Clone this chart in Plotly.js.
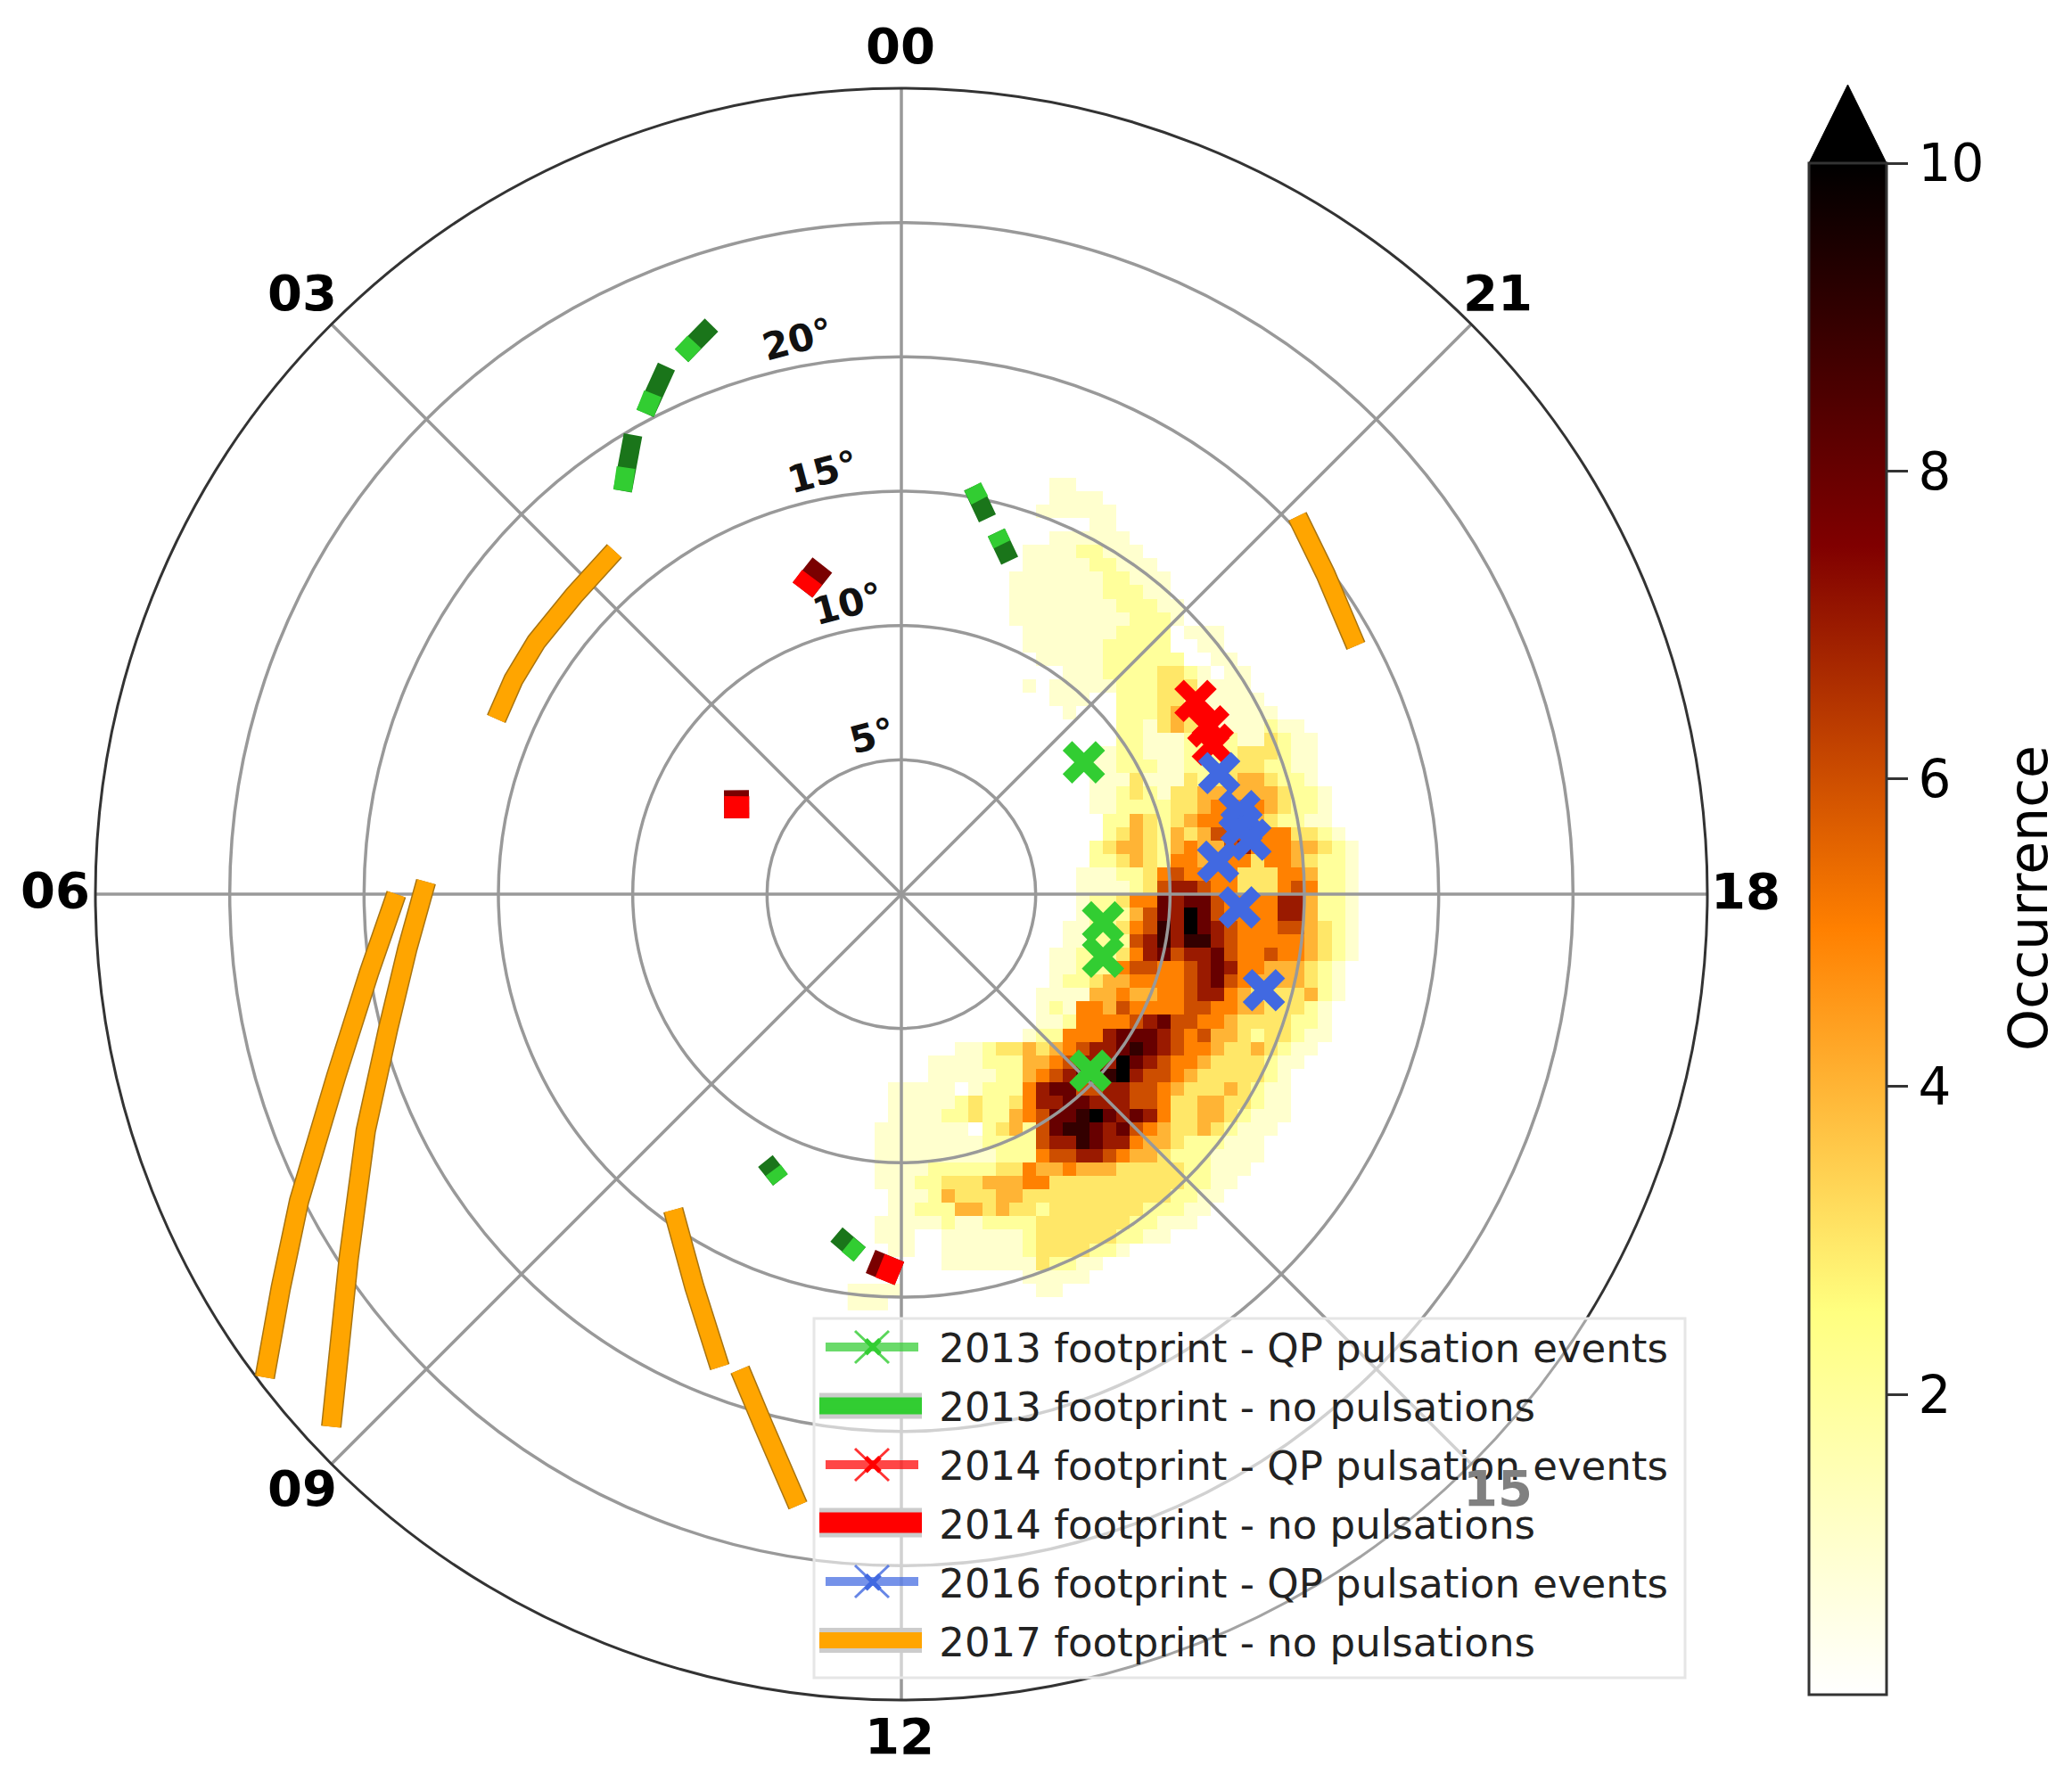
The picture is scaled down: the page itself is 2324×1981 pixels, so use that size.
<!DOCTYPE html>
<html>
<head>
<meta charset="utf-8">
<script src="https://cdn.plot.ly/plotly-3.0.1.min.js"></script>
<style>html,body{margin:0;padding:0;background:#fff}</style>
</head>
<body>
<div id="chart"></div>
<script>
// ---- occurrence map: rows from +16 deg downward, 0.5 deg cells, "startColumn:levels" (a = 10)
var heatRows = [
"", "15:11", "15:1111", "14:111111", "18:11", "15:111111",
"13:111122111", "13:1111122111", "12:111111122111", "12:111111122211",
"12:1111111122211", "12:1111111112221", "13:111111122220111", "13:111111222220011",
"14:11111222222 0011", "16:11122223321011", "13:10111112223331111",
"15:1110022233211111", "16:1000222343211111",
"20:22134321111211", "20:22111222211 3211",
"18:11221112222333211", "18:1122211222333 2211",
"18:1113111323344 3221", "18:112321334444443221",
"18:11222233455554 3221", "19:224323455554 32211",
"19:234324346665553321", "18:23443245446755544321", "18:22343255455535543221",
"17:111223565555333554221", "17:111123677655333565221", "17:122355878865555774221",
"17:12224687a865555774221", "16:112235697a876555664321", "16:1122267979976555554321",
"15:11222357867786556554321", "15:1122256655678755444321", "15:1223445555678654444321",
"14:11114454455677543333421", "14:1215546555566554433321", "14:1125555678665543333221",
"13:12255578887656443233211", "8:112334345677898765543343211", "6:11112224456777a8765543333211",
"6:11111224567889a766543333321", "3:111110122257886677665433343211", "3:111112322357788777665334433211",
"3:111122322456889a87875334432111", "2:111111102342689987865433432111", "2:11111111222267798775443222111",
"2:11111111122256677654432221111", "2:1111222223354454443333322111", "2:111223334445533333333332211",
"3:1112433344333333333332211", "3:112224434332333333322211", "2:111112112222333333322111",
"2:1110011111123333332211", "3:110011111123333221", "7:111111132211",
"13:11111", "0:1111000000000011", "0:111"
];
var colCount = 38;
var occurrenceTicks = [2, 4, 6, 8, 10];

// ---- footprints: magnetic local time (h) and colatitude (deg)
var lt2013Events = [20.39, 17.47, 16.85, 15.13];
var co2013Events = [8.38, 7.58, 7.86, 9.63];
var lt2014Events = [20.22, 19.91, 19.71];
var co2014Events = [13.1, 13.02, 12.86];
var lt2016Events = [19.39, 18.92, 18.75, 18.59, 18.39, 17.85, 17.01];
var co2016Events = [12.66, 12.96, 12.91, 13.15, 11.85, 12.6, 13.96];

var lt2013Body = [1.48,1.23,null,1.87,1.60,null,2.31,2.02,null,23.34,23.14,null,23.02,22.8,null,10.2,10.47,null,11.28,11.56];
var co2013Body = [21.65,22.33,null,20.28,21.5,null,18.25,19.8,null,15.4,14.35,null,13.92,13.05,null,11.15,11.55,null,12.9,13.5];
var lt2013Tip = [1.48,1.37,null,1.87,1.76,null,2.31,2.19,null,23.34,23.25,null,23.02,22.93,null,10.34,10.47,null,11.42,11.56];
var co2013Tip = [21.65,21.95,null,20.28,20.8,null,18.25,18.9,null,15.4,14.95,null,13.92,13.55,null,11.33,11.55,null,13.2,13.5];

var lt2014Body = [0.9,1.2,null,3.85,4.35,null,11.68,11.98];
var co2014Body = [12.6,11.9,null,7.26,6.75,null,13.72,14.12];
var lt2014Tip = [1.05,1.2,null,3.95,4.35,null,11.78,11.98];
var co2014Tip = [12.25,11.9,null,7.13,6.75,null,13.85,14.12];

var lt2017 = [20.91,20.47,19.91,null,2.66,3.17,3.69,4.07,4.44,null,6.0,6.56,7.19,7.8,8.16,8.48,null,5.9,6.42,6.98,7.59,8.23,8.87,null,9.61,10.15,10.6,null,10.75,11.03,11.36];
var co2017 = [20.37,19.78,19.28,null,16.65,16.5,16.52,16.5,16.43,null,18.8,20.03,22.1,25.16,27.36,29.75,null,17.7,18.5,19.75,21.8,24.66,29.04,null,14.5,16.54,18.86,null,18.69,20.44,23.08];

var angleTickVals = [0,45,90,135,180,225,270,315];
var angleTickText = ["00","03","06","09","12","15","18","21"];
var ringVals = [5,10,15,20,25,30];
var ringLabelVals = [5,10,15,20];

var legendNames = [
 "2013 footprint - QP pulsation events",
 "2013 footprint - no pulsations",
 "2014 footprint - QP pulsation events",
 "2014 footprint - no pulsations",
 "2016 footprint - QP pulsation events",
 "2017 footprint - no pulsations"
];

// ---- geometry
var W = 2324, H = 1981, CX = 1011, CY = 1003, R = 904;
var px = function(x){ return x / W; };
var py = function(y){ return 1 - y / H; };
var FONT = '"DejaVu Sans", sans-serif';
var GREEN = '#32CD32', RED = '#FF0000', BLUE = '#4169E1', ORANGE = '#FFA500';
var toTheta = function(a){ return a.map(function(v){ return v === null ? null : v * 15; }); };

// ---- heat grid
var z = heatRows.map(function(row){
  var out = new Array(colCount).fill(null);
  if (!row) return out;
  var parts = row.replace(/ /g,'').split(':'), start = +parts[0];
  parts[1].split('').forEach(function(ch, i){
    var v = ch === 'a' ? 10 : +ch;
    if (v > 0 && start + i < colCount) out[start + i] = v;
  });
  return out;
});
var afmhotR = [[0,'#ffffff'],[0.25,'#ffff80'],[0.5,'#ff8000'],[0.75,'#800000'],[1,'#000000']];

function lineTrace(lt, co, color, width, name, group){
  return {type:'scatterpolar', mode:'lines', r:co, theta:toTheta(lt), subplot:'polar',
    line:{color:color, width:width}, name:name ? '\u00a0' + name : '', showlegend:!!name,
    legendgroup:group, hoverinfo:'skip', connectgaps:false, cliponaxis:false};
}
function eventTrace(lt, co, color, name, group){
  return {type:'scatterpolar', mode:'markers', r:co, theta:toTheta(lt), subplot:'polar',
    marker:{symbol:'x-thin', size:37, color:color, line:{color:color, width:15}},
    name:'\u00a0' + name, legendgroup:group, hoverinfo:'skip', cliponaxis:false};
}

var traces = [
  {type:'heatmap', z:z, x0:-1.75, dx:0.5, y0:15.75, dy:-0.5, xaxis:'x', yaxis:'y',
   zmin:0.05, zmax:10, colorscale:afmhotR, hoverinfo:'skip', xgap:0, ygap:0,
   showlegend:false,
   colorbar:{x:px(2029), xanchor:'left', y:py(1901), yanchor:'bottom', len:(1901-183)/H, lenmode:'fraction',
     thickness:87, thicknessmode:'pixels', xpad:0, ypad:0, outlinecolor:'#333333', outlinewidth:3,
     tickmode:'array', tickvals:occurrenceTicks, ticktext:occurrenceTicks.map(String),
     ticks:'outside', ticklen:23, tickwidth:3, tickcolor:'#333333',
     tickfont:{family:FONT, size:58, color:'#000'}}},
  lineTrace(lt2013Body, co2013Body, '#1a751a', 21),
  lineTrace(lt2014Body, co2014Body, '#7a0000', 28),
  lineTrace(lt2017, co2017, '#a87410', 23),
  eventTrace(lt2013Events, co2013Events, GREEN, legendNames[0], 'a'),
  lineTrace(lt2013Tip, co2013Tip, GREEN, 21, legendNames[1], 'b'),
  eventTrace(lt2014Events, co2014Events, RED, legendNames[2], 'c'),
  lineTrace(lt2014Tip, co2014Tip, RED, 28, legendNames[3], 'd'),
  eventTrace(lt2016Events, co2016Events, BLUE, legendNames[4], 'e'),
  lineTrace(lt2017, co2017, ORANGE, 20, legendNames[5], 'f')
];

// ---- legend handles and box sit under the library's legend
var shapes = [
  {type:'path', xref:'paper', yref:'paper', layer:'above',
   path:'M'+px(2029)+','+py(183)+' L'+px(2072.5)+','+py(95)+' L'+px(2116)+','+py(183)+' Z',
   fillcolor:'#000', line:{color:'#000', width:1}},
  {type:'rect', xref:'paper', yref:'paper', layer:'above', x0:px(913), x1:px(1890), y0:py(1479), y1:py(1882),
   fillcolor:'rgba(255,255,255,0.55)', line:{color:'#e6e6e6', width:3}}
];
function bar(y, h, x1, color){
  shapes.push({type:'rect', xref:'paper', yref:'paper', layer:'above', x0:px(919), x1:px(x1), y0:py(y-h/2-5), y1:py(y+h/2+5), fillcolor:'#cccccc', line:{width:0}});
  shapes.push({type:'rect', xref:'paper', yref:'paper', layer:'above', x0:px(919), x1:px(x1), y0:py(y-h/2), y1:py(y+h/2), fillcolor:color, line:{width:0}});
}
function crossHandle(y, color){
  var cx = 978;
  shapes.push({type:'line', xref:'paper', yref:'paper', layer:'above', x0:px(926), x1:px(1030), y0:py(y), y1:py(y), opacity:0.72, line:{color:color, width:10}});
  shapes.push({type:'line', xref:'paper', yref:'paper', layer:'above', x0:px(cx-19), x1:px(cx+19), y0:py(y-18), y1:py(y+18), opacity:0.8, line:{color:color, width:3}});
  shapes.push({type:'line', xref:'paper', yref:'paper', layer:'above', x0:px(cx-19), x1:px(cx+19), y0:py(y+18), y1:py(y-18), opacity:0.8, line:{color:color, width:3}});
}
crossHandle(1511, GREEN); bar(1577, 19, 1034, GREEN);
crossHandle(1643, RED);   bar(1708, 23, 1034, RED);
crossHandle(1774, BLUE);  bar(1840, 18, 1034, ORANGE);

// ---- ring labels are rotated and hour labels are centred on a circle: annotations placed from the values
var annotations = ringLabelVals.map(function(v){
  var rr = (v + 1) * R / 30, a = 10.6 * Math.PI / 180;
  return {xref:'paper', yref:'paper', x:px(CX - rr*Math.sin(a)), y:py(CY - rr*Math.cos(a)),
    xanchor:'center', yanchor:'middle', text:v + '°', showarrow:false, textangle:-15,
    font:{family:FONT, size:42, color:'#111', weight:700}};
});
angleTickVals.forEach(function(t, i){
  var a = t * Math.PI / 180, rr = 948, lcx = 1009.5, lcy = 999;
  annotations.push({xref:'paper', yref:'paper', x:px(lcx - rr*Math.sin(a)), y:py(lcy - rr*Math.cos(a)),
    xanchor:'center', yanchor:'middle', text:angleTickText[i], showarrow:false,
    font:{family:FONT, size:56, color:angleTickText[i] === '15' ? '#808080' : '#000', weight:700}});
});
annotations.push({xref:'paper', yref:'paper', x:px(2275), y:py(1008), xanchor:'center', yanchor:'middle',
  text:'Occurrence', showarrow:false, textangle:-90, font:{family:FONT, size:60, color:'#000'}});

var dom = {x:[(CX-R)/W, (CX+R)/W], y:[1-(CY+R)/H, 1-(CY-R)/H]};

var layout = {
  width:W, height:H, margin:{l:0,r:0,t:0,b:0,pad:0},
  paper_bgcolor:'#fff', plot_bgcolor:'rgba(0,0,0,0)',
  font:{family:FONT},
  xaxis:{domain:dom.x, range:[-30,30], visible:false, fixedrange:true},
  yaxis:{domain:dom.y, range:[-30,30], visible:false, fixedrange:true},
  polar:{
    domain:dom, bgcolor:'rgba(0,0,0,0)',
    radialaxis:{range:[0,30], tickmode:'array', tickvals:ringVals, showticklabels:false, ticks:'',
      showline:false, gridcolor:'#999999', gridwidth:3.5, layer:'above traces'},
    angularaxis:{rotation:90, direction:'counterclockwise', thetaunit:'degrees', tickmode:'array',
      tickvals:angleTickVals, ticktext:angleTickText, ticks:'', showticklabels:false,
      gridcolor:'#999999', gridwidth:3.5, showline:true, linecolor:'#333333', linewidth:3, layer:'below traces'}
  },
  legend:{x:px(919), y:py(1475), xanchor:'left', yanchor:'top', bgcolor:'rgba(0,0,0,0)', borderwidth:0,
    font:{family:FONT, size:45, color:'#222'}, itemwidth:110, tracegroupgap:4.5, traceorder:'grouped', itemclick:false, itemdoubleclick:false},
  shapes:shapes, annotations:annotations, showlegend:true
};
Plotly.newPlot('chart', traces, layout, {staticPlot:true, displayModeBar:false});
</script>
</body>
</html>
